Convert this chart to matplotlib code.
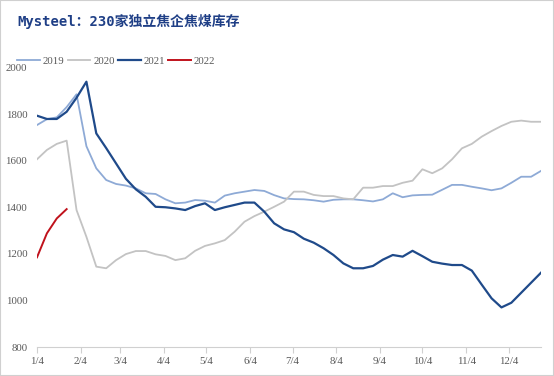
import pandas as pd
import matplotlib.pyplot as plt
from matplotlib.patches import Rectangle

# weekly inventory, 10k tons
weeks = pd.date_range('2021-01-04', periods=52, freq='7D')

inv_2019 = [1753, 1778, 1786, 1830, 1885, 1662, 1567, 1517, 1500, 1493,
            1481, 1460, 1457, 1434, 1417, 1420, 1431, 1428, 1420, 1450,
            1460, 1467, 1474, 1470, 1452, 1438, 1435, 1434, 1430, 1424,
            1432, 1434, 1434, 1430, 1425, 1434, 1460, 1443, 1451, 1453,
            1454, 1475, 1496, 1496, 1488, 1481, 1473, 1481, 1505, 1531,
            1531, 1556]
inv_2020 = [1606, 1646, 1672, 1686, 1388, 1273, 1145, 1138, 1173, 1199,
            1212, 1212, 1198, 1191, 1173, 1181, 1213, 1234, 1245, 1259,
            1295, 1338, 1362, 1381, 1402, 1424, 1467, 1467, 1453, 1448,
            1448, 1438, 1434, 1484, 1484, 1491, 1491, 1505, 1514, 1563,
            1546, 1567, 1606, 1653, 1672, 1703, 1727, 1749, 1767, 1772,
            1767, 1767]
inv_2021 = [1793, 1779, 1779, 1810, 1870, 1939, 1717, 1654, 1588, 1522,
            1477, 1445, 1402, 1400, 1395, 1388, 1405, 1417, 1388, 1400,
            1410, 1420, 1420, 1381, 1331, 1305, 1293, 1265, 1248, 1224,
            1195, 1159, 1138, 1138, 1148, 1175, 1195, 1188, 1213, 1190,
            1166, 1158, 1152, 1152, 1128, 1068, 1009, 970, 990, 1033,
            1076, 1119]
inv_2022 = [1185, 1288, 1352, 1392]

tick_dates = pd.date_range('2021-01-01', periods=12, freq='MS') + pd.Timedelta(days=3)
tick_labels = [f'{d.month}/4' for d in tick_dates]

fig = plt.figure(figsize=(5.54, 3.76), dpi=100)
ax = fig.add_axes([0.0668, 0.0771, 0.9097, 0.7434])

ax.plot(weeks, inv_2019, color='#8eaad6', lw=1.3, label='2019')
ax.plot(weeks, inv_2020, color='#c3c3c3', lw=1.3, label='2020')
ax.plot(weeks, inv_2021, color='#1f4a8a', lw=1.6, label='2021')
ax.plot(weeks[:len(inv_2022)], inv_2022, color='#c0121c', lw=1.4, label='2022')

ax.set_xlim(weeks[0], weeks[-1])
ax.set_ylim(800, 2000)
ax.set_yticks(range(800, 2001, 200))
ax.set_xticks(tick_dates)
ax.set_xticklabels(tick_labels)

for s in ['top', 'right', 'left']:
    ax.spines[s].set_visible(False)
ax.spines['bottom'].set_color('#d0d0d0')
ax.tick_params(axis='y', length=0, pad=7, labelsize=7.8, labelcolor='#595959')
ax.tick_params(axis='x', length=4, color='#d0d0d0', pad=3, labelsize=7.8, labelcolor='#595959')
for lab in ax.get_xticklabels() + ax.get_yticklabels():
    lab.set_family('Liberation Serif')

leg = ax.legend(loc='lower left', bbox_to_anchor=(-0.05, 0.985), ncol=4, frameon=False,
                handlelength=2.1, handletextpad=0.25, columnspacing=0.3,
                prop={'family': 'Liberation Serif', 'size': 7.8}, borderaxespad=0.1)
for t in leg.get_texts():
    t.set_color('#595959')

fig.text(0.032, 0.944, 'Mysteel：230家独立焦企焦煤库存', fontsize=10, fontweight='bold',
         color='#1f3f86', va='center', ha='left',
         family=['DejaVu Sans Mono', 'Noto Sans CJK SC'])

fig.patches.append(Rectangle((0, 0), 1, 1, transform=fig.transFigure, fill=False,
                             edgecolor='#d0d0d0', lw=1.5))

fig.savefig('out.png', dpi=100)
